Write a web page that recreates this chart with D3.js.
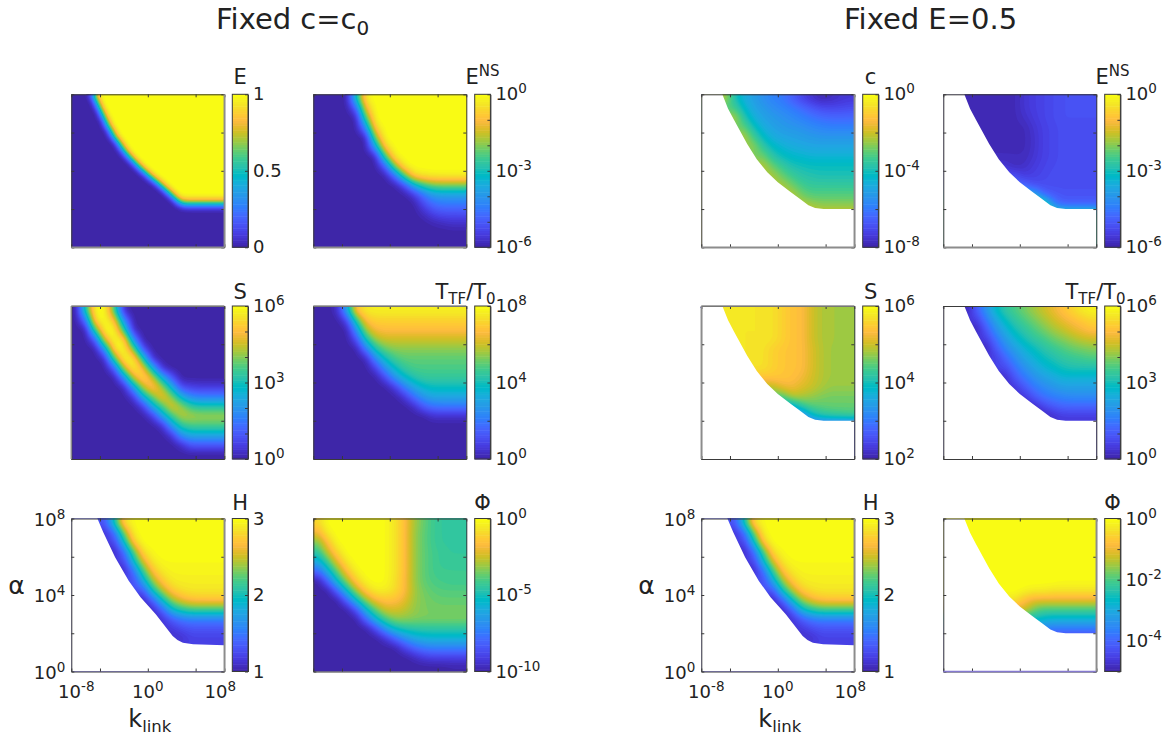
<!DOCTYPE html>
<html>
<head>
<meta charset="utf-8">
<script src="https://d3js.org/d3.v7.min.js"></script>
<style>
  html, body { margin: 0; background: #fff; }
  text { font-family: "DejaVu Sans", sans-serif; fill: #222; }
</style>
</head>
<body>
<svg id="chart" width="1167" height="738"></svg>
<script>
const _ = null

// MATLAB parula, 64 levels
const parula = ['#3e26a8','#4029b5','#422ebf','#4332cb','#4537d5','#463bde','#4741e5','#4747eb','#484df0','#4852f4','#4758f8','#465efb','#4563fc','#4269fe','#3e6fff','#3875fe','#327bfc','#2f81fa','#2d87f7','#2d8cf3','#2b91ef','#2796eb','#259be7','#239fe5','#20a5e3','#1ca9df','#18addb','#12b1d6','#08b5d0','#01b8ca','#02bac3','#0bbdbd','#19bfb6','#24c1ae','#2cc3a7','#31c69f','#37c897','#3fca8e','#4acb84','#57cc7a','#63cd6f','#71cc64','#80cc59','#8fca4e','#9dc942','#abc739','#b9c431','#c5c22a','#d1bf27','#dcbd29','#e6bb2d','#efba35','#f8ba3d','#febe3c','#fec338','#fec934','#fccf30','#f9d52d','#f7dc2a','#f5e327','#f5e924','#f6ef20','#f7f51b','#f9fb14']

const kTicks = [-8, -5, 0, 5, 8]
const alphaTicks = [0, 2, 4, 6, 8]

// edge of the computed region, Fixed E=0.5 panels
const fixedEdgeK = [-8, -5.8, -5.2, -4.6, -3.2, -2.2, -1.1, 0, 1.3, 2.4, 3.2, 3.9, 4.8, 8]
const fixedEdgeA = [8, 8, 7.25, 6.68, 5.4, 4.6, 3.92, 3.4, 2.9, 2.5, 2.2, 2.05, 2, 2]
// edge of the computed region, H panels
const hEdgeK = [-8, -5.27, -4.67, -3.42, -2, -0.76, 0.83, 2.6, 3.1, 3.67, 4.74, 8]
const hEdgeA = [8, 8, 7.3, 5.98, 4.75, 3.88, 3, 1.86, 1.65, 1.5, 1.42, 1.37]

// grids: rows top to bottom (alpha), columns left to right (k_link)
// log10 of the quantity, except E and H which are linear
// E has a very narrow transition so it gets a 32x32 grid, the rest 16x16
const eGrid = [
  [0,0,0,0,.27,.97,1,1,1,1,1,1,1,1,1,1,1,1,1,1,1,1,1,1,1,1,1,1,1,1,1,1],
  [0,0,0,0,0,.63,1,1,1,1,1,1,1,1,1,1,1,1,1,1,1,1,1,1,1,1,1,1,1,1,1,1],
  [0,0,0,0,0,.3,1,1,1,1,1,1,1,1,1,1,1,1,1,1,1,1,1,1,1,1,1,1,1,1,1,1],
  [0,0,0,0,0,0,.69,1,1,1,1,1,1,1,1,1,1,1,1,1,1,1,1,1,1,1,1,1,1,1,1,1],
  [0,0,0,0,0,0,.35,1,1,1,1,1,1,1,1,1,1,1,1,1,1,1,1,1,1,1,1,1,1,1,1,1],
  [0,0,0,0,0,0,0,.72,1,1,1,1,1,1,1,1,1,1,1,1,1,1,1,1,1,1,1,1,1,1,1,1],
  [0,0,0,0,0,0,0,.41,1,1,1,1,1,1,1,1,1,1,1,1,1,1,1,1,1,1,1,1,1,1,1,1],
  [0,0,0,0,0,0,0,0,.67,1,1,1,1,1,1,1,1,1,1,1,1,1,1,1,1,1,1,1,1,1,1,1],
  [0,0,0,0,0,0,0,0,.28,.98,1,1,1,1,1,1,1,1,1,1,1,1,1,1,1,1,1,1,1,1,1,1],
  [0,0,0,0,0,0,0,0,0,.49,1,1,1,1,1,1,1,1,1,1,1,1,1,1,1,1,1,1,1,1,1,1],
  [0,0,0,0,0,0,0,0,0,0,.72,1,1,1,1,1,1,1,1,1,1,1,1,1,1,1,1,1,1,1,1,1],
  [0,0,0,0,0,0,0,0,0,0,.21,.91,1,1,1,1,1,1,1,1,1,1,1,1,1,1,1,1,1,1,1,1],
  [0,0,0,0,0,0,0,0,0,0,0,.32,1,1,1,1,1,1,1,1,1,1,1,1,1,1,1,1,1,1,1,1],
  [0,0,0,0,0,0,0,0,0,0,0,0,.37,1,1,1,1,1,1,1,1,1,1,1,1,1,1,1,1,1,1,1],
  [0,0,0,0,0,0,0,0,0,0,0,0,0,.39,1,1,1,1,1,1,1,1,1,1,1,1,1,1,1,1,1,1],
  [0,0,0,0,0,0,0,0,0,0,0,0,0,0,.4,1,1,1,1,1,1,1,1,1,1,1,1,1,1,1,1,1],
  [0,0,0,0,0,0,0,0,0,0,0,0,0,0,0,.27,.97,1,1,1,1,1,1,1,1,1,1,1,1,1,1,1],
  [0,0,0,0,0,0,0,0,0,0,0,0,0,0,0,0,.19,.89,1,1,1,1,1,1,1,1,1,1,1,1,1,1],
  [0,0,0,0,0,0,0,0,0,0,0,0,0,0,0,0,0,.05,.75,1,1,1,1,1,1,1,1,1,1,1,1,1],
  [0,0,0,0,0,0,0,0,0,0,0,0,0,0,0,0,0,0,0,.67,1,1,1,1,1,1,1,1,1,1,1,1],
  [0,0,0,0,0,0,0,0,0,0,0,0,0,0,0,0,0,0,0,0,.54,1,1,1,1,1,1,1,1,1,1,1],
  [0,0,0,0,0,0,0,0,0,0,0,0,0,0,0,0,0,0,0,0,0,.45,1,.98,.98,.98,.98,.98,.98,.98,.98,.98],
  [0,0,0,0,0,0,0,0,0,0,0,0,0,0,0,0,0,0,0,0,0,0,.42,.75,.75,.75,.75,.75,.75,.75,.75,.75],
  [0,0,0,0,0,0,0,0,0,0,0,0,0,0,0,0,0,0,0,0,0,0,0,.1,.1,.1,.1,.1,.1,.1,.1,.1],
  [0,0,0,0,0,0,0,0,0,0,0,0,0,0,0,0,0,0,0,0,0,0,0,0,0,0,0,0,0,0,0,0],
  [0,0,0,0,0,0,0,0,0,0,0,0,0,0,0,0,0,0,0,0,0,0,0,0,0,0,0,0,0,0,0,0],
  [0,0,0,0,0,0,0,0,0,0,0,0,0,0,0,0,0,0,0,0,0,0,0,0,0,0,0,0,0,0,0,0],
  [0,0,0,0,0,0,0,0,0,0,0,0,0,0,0,0,0,0,0,0,0,0,0,0,0,0,0,0,0,0,0,0],
  [0,0,0,0,0,0,0,0,0,0,0,0,0,0,0,0,0,0,0,0,0,0,0,0,0,0,0,0,0,0,0,0],
  [0,0,0,0,0,0,0,0,0,0,0,0,0,0,0,0,0,0,0,0,0,0,0,0,0,0,0,0,0,0,0,0],
  [0,0,0,0,0,0,0,0,0,0,0,0,0,0,0,0,0,0,0,0,0,0,0,0,0,0,0,0,0,0,0,0],
  [0,0,0,0,0,0,0,0,0,0,0,0,0,0,0,0,0,0,0,0,0,0,0,0,0,0,0,0,0,0,0,0],
]
const eNsGrid = [
  [-6,-6,-6,-6,-3.1,-.2,0,0,0,0,0,0,0,0,0,0],
  [-6,-6,-6,-6,-5,-1,0,0,0,0,0,0,0,0,0,0],
  [-6,-6,-6,-6,-6,-2.4,0,0,0,0,0,0,0,0,0,0],
  [-6,-6,-6,-6,-6,-4.2,-.5,0,0,0,0,0,0,0,0,0],
  [-6,-6,-6,-6,-6,-6,-1.9,0,0,0,0,0,0,0,0,0],
  [-6,-6,-6,-6,-6,-6,-3.8,-.6,0,0,0,0,0,0,0,0],
  [-6,-6,-6,-6,-6,-6,-6,-2.5,-.2,0,0,0,0,0,0,0],
  [-6,-6,-6,-6,-6,-6,-6,-5,-2,-.2,0,0,0,0,0,0],
  [-6,-6,-6,-6,-6,-6,-6,-6,-4.8,-2.4,-.5,-.3,-.2,-.2,-.2,-.2],
  [-6,-6,-6,-6,-6,-6,-6,-6,-6,-5.3,-3.6,-2.6,-2.1,-2,-2,-2],
  [-6,-6,-6,-6,-6,-6,-6,-6,-6,-6,-5.6,-4.6,-3.9,-3.8,-3.8,-3.8],
  [-6,-6,-6,-6,-6,-6,-6,-6,-6,-6,-6,-5.3,-4.7,-4.5,-4.5,-4.5],
  [-6,-6,-6,-6,-6,-6,-6,-6,-6,-6,-6,-5.8,-5.4,-5.2,-5.2,-5.2],
  [-6,-6,-6,-6,-6,-6,-6,-6,-6,-6,-6,-6,-5.9,-5.8,-5.7,-5.7],
  [-6,-6,-6,-6,-6,-6,-6,-6,-6,-6,-6,-6,-6,-6,-6,-6],
  [-6,-6,-6,-6,-6,-6,-6,-6,-6,-6,-6,-6,-6,-6,-6,-6],
]
const sGrid = [
  [0,3.2,6,6,3.6,.2,0,0,0,0,0,0,0,0,0,0],
  [0,1.3,5.6,6,5.2,1.8,0,0,0,0,0,0,0,0,0,0],
  [0,0,3.6,6,6,3.4,.2,0,0,0,0,0,0,0,0,0],
  [0,0,1,4.8,6,5.6,1.8,0,0,0,0,0,0,0,0,0],
  [0,0,0,2,5.7,6,4,.8,0,0,0,0,0,0,0,0],
  [0,0,0,.2,3.6,6,5.8,3.2,.3,0,0,0,0,0,0,0],
  [0,0,0,0,1,4.4,6,5,2.6,.3,0,0,0,0,0,0],
  [0,0,0,0,0,1.7,4.6,5.7,4.6,2.6,1,0,0,0,0,0],
  [0,0,0,0,0,.1,2.1,4.4,5.4,4.3,2.6,.8,.6,.5,.5,.5],
  [0,0,0,0,0,0,.4,2.5,3.9,5,4.1,2.6,1.8,1.6,1.6,1.6],
  [0,0,0,0,0,0,0,.5,2.4,3.6,4.8,4.2,3.4,3.2,3.2,3.2],
  [0,0,0,0,0,0,0,0,.5,2.2,3.5,4.4,4.3,4.2,4.2,4.2],
  [0,0,0,0,0,0,0,0,0,.3,2.1,3.3,3.6,3.6,3.6,3.6],
  [0,0,0,0,0,0,0,0,0,0,.4,2,2.4,2.4,2.4,2.4],
  [0,0,0,0,0,0,0,0,0,0,0,.3,1,1,1,1],
  [0,0,0,0,0,0,0,0,0,0,0,0,0,0,0,0],
]
const tGrid = [
  [0,0,.3,3,7,7.6,7.7,7.7,7.7,7.7,7.7,7.7,7.7,7.7,7.7,7.7],
  [0,0,0,.8,4.5,6.8,7.1,7.1,7.1,7.1,7.1,7.1,7.1,7.1,7.1,7.1],
  [0,0,0,0,2.5,5.7,6.6,6.7,6.7,6.7,6.7,6.7,6.7,6.7,6.7,6.7],
  [0,0,0,0,1,4,5.6,6,6,6,6,6,6,6,6,6],
  [0,0,0,0,0,2,4.2,5.1,5.4,5.4,5.4,5.4,5.4,5.4,5.4,5.4],
  [0,0,0,0,0,.1,2.4,3.9,4.7,5,5,5,5,5,5,5],
  [0,0,0,0,0,0,.7,2.6,3.8,4.5,4.8,4.8,4.8,4.8,4.8,4.8],
  [0,0,0,0,0,0,0,.9,2.6,3.6,4.2,4.5,4.5,4.5,4.5,4.5],
  [0,0,0,0,0,0,0,0,.6,2.1,3.1,3.7,3.9,3.9,3.9,3.9],
  [0,0,0,0,0,0,0,0,0,.5,1.8,2.7,3.1,3.1,3.1,3.1],
  [0,0,0,0,0,0,0,0,0,0,.3,1.4,1.9,2,2,2],
  [0,0,0,0,0,0,0,0,0,0,0,0,.4,.4,.4,.4],
  [0,0,0,0,0,0,0,0,0,0,0,0,0,0,0,0],
  [0,0,0,0,0,0,0,0,0,0,0,0,0,0,0,0],
  [0,0,0,0,0,0,0,0,0,0,0,0,0,0,0,0],
  [0,0,0,0,0,0,0,0,0,0,0,0,0,0,0,0],
]
const hGrid = [
  [_,_,_,1.3,2,2.85,2.98,3,3,3,3,3,3,3,3,3],
  [_,_,_,1.1,1.4,2.3,2.95,3,3,3,3,3,3,3,3,3],
  [_,_,_,_,1.2,1.9,2.75,3,3,3,3,3,3,3,3,3],
  [_,_,_,_,1.05,1.4,2.2,2.85,2.97,3,3,3,3,3,3,3],
  [_,_,_,_,_,1.2,1.9,2.55,2.9,2.97,2.97,2.97,2.97,2.97,2.97,2.97],
  [_,_,_,_,_,1.05,1.45,2.15,2.7,2.9,2.95,2.95,2.95,2.95,2.95,2.95],
  [_,_,_,_,_,_,1.25,1.8,2.4,2.75,2.9,2.92,2.92,2.92,2.92,2.92],
  [_,_,_,_,_,_,_,1.3,2,2.45,2.75,2.85,2.88,2.88,2.88,2.88],
  [_,_,_,_,_,_,_,1.05,1.4,1.95,2.4,2.6,2.7,2.72,2.72,2.72],
  [_,_,_,_,_,_,_,_,1.05,1.4,1.9,2.1,2.2,2.2,2.2,2.2],
  [_,_,_,_,_,_,_,_,_,1.1,1.35,1.5,1.55,1.55,1.55,1.55],
  [_,_,_,_,_,_,_,_,_,_,1.15,1.25,1.3,1.3,1.3,1.3],
  [_,_,_,_,_,_,_,_,_,_,_,1.1,1.2,1.2,1.2,1.2],
  [_,_,_,_,_,_,_,_,_,_,_,_,_,_,_,_],
  [_,_,_,_,_,_,_,_,_,_,_,_,_,_,_,_],
  [_,_,_,_,_,_,_,_,_,_,_,_,_,_,_,_],
]
const phiGrid = [
  [-1,0,0,0,0,0,0,-.1,-.6,-1.5,-2.9,-3.6,-4.2,-4.4,-4.5,-4.5],
  [-2,-.4,0,0,0,0,0,-.1,-.6,-1.5,-3,-3.7,-4.2,-4.4,-4.5,-4.5],
  [-3.4,-1.5,-.1,0,0,0,0,-.1,-.6,-1.5,-3,-3.7,-4.2,-4.4,-4.4,-4.4],
  [-4.5,-2.5,-.9,0,0,0,0,-.1,-.6,-1.5,-3,-3.7,-4.1,-4.3,-4.4,-4.4],
  [-6,-4.1,-2,-.5,0,0,0,-.1,-.6,-1.5,-3,-3.7,-4.1,-4.3,-4.3,-4.3],
  [-8,-5.8,-3.6,-1.5,-.3,0,0,-.1,-.6,-1.5,-3,-3.7,-4.1,-4.2,-4.2,-4.2],
  [-10,-8,-5.2,-3,-1.1,-.2,0,-.1,-.7,-1.6,-3,-3.7,-4,-4.1,-4.2,-4.2],
  [-10,-10,-8,-5.2,-2.8,-1.1,-.4,-.4,-.8,-1.6,-2.9,-3.5,-3.8,-3.9,-3.9,-3.9],
  [-10,-10,-10,-8,-5.2,-3,-1.7,-1.4,-1.5,-2,-3,-3.4,-3.6,-3.7,-3.7,-3.7],
  [-10,-10,-10,-10,-8.5,-5.5,-3.6,-2.4,-2.3,-2.6,-3.1,-3.4,-3.5,-3.5,-3.5,-3.5],
  [-10,-10,-10,-10,-10,-8,-5.6,-4,-3.2,-3.2,-3.3,-3.4,-3.4,-3.4,-3.4,-3.4],
  [-10,-10,-10,-10,-10,-10,-8.8,-6.6,-5.2,-4.7,-4.6,-4.5,-4.5,-4.5,-4.5,-4.5],
  [-10,-10,-10,-10,-10,-10,-10,-9.4,-8,-6.8,-6,-5.7,-5.6,-5.6,-5.6,-5.6],
  [-10,-10,-10,-10,-10,-10,-10,-10,-10,-9,-8,-7.4,-7.2,-7.2,-7.2,-7.2],
  [-10,-10,-10,-10,-10,-10,-10,-10,-10,-10,-9.7,-9.2,-9,-9,-9,-9],
  [-10,-10,-10,-10,-10,-10,-10,-10,-10,-10,-10,-10,-10,-10,-9.9,-9.9],
]
const cGrid = [
  [_,_,-2.3,-3.9,-4.7,-5.1,-5.5,-5.8,-6,-6.5,-7.1,-7.5,-7.8,-7.7,-7.5,-7.4],
  [_,_,_,-3.2,-4.3,-4.9,-5.2,-5.5,-5.7,-5.9,-6.2,-6.6,-6.9,-7,-7,-6.9],
  [_,_,_,-2.2,-3.7,-4.6,-5,-5.2,-5.4,-5.6,-5.8,-6,-6.2,-6.3,-6.3,-6.3],
  [_,_,_,_,-2.9,-4,-4.7,-5,-5.2,-5.3,-5.4,-5.6,-5.7,-5.8,-5.8,-5.8],
  [_,_,_,_,-2.2,-3.3,-4.2,-4.7,-4.9,-5,-5.1,-5.2,-5.3,-5.3,-5.3,-5.3],
  [_,_,_,_,_,-2.5,-3.6,-4.2,-4.5,-4.7,-4.8,-4.9,-4.9,-4.9,-4.9,-4.9],
  [_,_,_,_,_,_,-2.8,-3.7,-4.1,-4.3,-4.4,-4.5,-4.5,-4.5,-4.5,-4.5],
  [_,_,_,_,_,_,-2.2,-2.9,-3.5,-3.9,-4,-4.1,-4.1,-4.1,-4.1,-4.1],
  [_,_,_,_,_,_,_,-2.3,-2.9,-3.4,-3.7,-3.8,-3.9,-3.9,-3.9,-3.9],
  [_,_,_,_,_,_,_,_,-2.3,-2.8,-3.3,-3.5,-3.5,-3.5,-3.5,-3.5],
  [_,_,_,_,_,_,_,_,_,-2.2,-2.8,-3.1,-3.1,-3.1,-3.1,-3.1],
  [_,_,_,_,_,_,_,_,_,_,-2.2,-2.4,-2.6,-2.6,-2.6,-2.6],
  [_,_,_,_,_,_,_,_,_,_,_,-2,-2,-2,-2,-2],
  [_,_,_,_,_,_,_,_,_,_,_,_,_,_,_,_],
  [_,_,_,_,_,_,_,_,_,_,_,_,_,_,_,_],
  [_,_,_,_,_,_,_,_,_,_,_,_,_,_,_,_],
]
const eNsFixedGrid = [
  [_,_,-5.85,-5.85,-5.85,-5.85,-5.85,-5.85,-5.6,-5.45,-5.35,-5.25,-5.15,-5.15,-5.15,-5.15],
  [_,_,_,-5.85,-5.85,-5.85,-5.85,-5.85,-5.6,-5.45,-5.35,-5.25,-5.15,-5.15,-5.15,-5.15],
  [_,_,_,-5.85,-5.85,-5.85,-5.85,-5.85,-5.7,-5.5,-5.35,-5.25,-5.15,-5.15,-5.15,-5.15],
  [_,_,_,_,-5.85,-5.85,-5.85,-5.85,-5.85,-5.6,-5.4,-5.3,-5.2,-5.2,-5.2,-5.2],
  [_,_,_,_,-5.85,-5.85,-5.85,-5.85,-5.85,-5.65,-5.4,-5.3,-5.2,-5.2,-5.2,-5.2],
  [_,_,_,_,_,-5.85,-5.85,-5.85,-5.85,-5.65,-5.4,-5.3,-5.2,-5.2,-5.2,-5.2],
  [_,_,_,_,_,_,-5.8,-5.8,-5.8,-5.6,-5.4,-5.3,-5.2,-5.2,-5.2,-5.2],
  [_,_,_,_,_,_,-5.6,-5.8,-5.7,-5.5,-5.35,-5.25,-5.2,-5.2,-5.2,-5.2],
  [_,_,_,_,_,_,_,-5.2,-5.5,-5.4,-5.3,-5.2,-5.2,-5.2,-5.2,-5.2],
  [_,_,_,_,_,_,_,_,-4.8,-5.2,-5.2,-5.2,-5.2,-5.2,-5.2,-5.2],
  [_,_,_,_,_,_,_,_,_,-3.5,-4.8,-5,-5.1,-5.1,-5.1,-5.1],
  [_,_,_,_,_,_,_,_,_,_,-2,-4.3,-4.9,-4.9,-4.9,-4.9],
  [_,_,_,_,_,_,_,_,_,_,_,-2.5,-2.5,-2.5,-2.5,-2.5],
  [_,_,_,_,_,_,_,_,_,_,_,_,_,_,_,_],
  [_,_,_,_,_,_,_,_,_,_,_,_,_,_,_,_],
  [_,_,_,_,_,_,_,_,_,_,_,_,_,_,_,_],
]
const sFixedGrid = [
  [_,_,5.75,5.75,5.75,5.75,5.75,5.7,5.55,5.4,5.35,5.05,4.87,4.82,4.8,4.8],
  [_,_,_,5.75,5.75,5.75,5.75,5.7,5.55,5.4,5.35,5.05,4.87,4.82,4.8,4.8],
  [_,_,_,5.75,5.75,5.75,5.75,5.7,5.55,5.4,5.35,5.05,4.87,4.82,4.8,4.8],
  [_,_,_,_,5.75,5.75,5.75,5.7,5.55,5.4,5.35,5.05,4.87,4.82,4.8,4.8],
  [_,_,_,_,5.75,5.75,5.7,5.55,5.45,5.4,5.35,5.1,4.9,4.8,4.8,4.8],
  [_,_,_,_,_,5.75,5.7,5.55,5.45,5.4,5.35,5.1,4.9,4.8,4.8,4.8],
  [_,_,_,_,_,_,5.7,5.55,5.45,5.4,5.35,5.1,4.9,4.8,4.8,4.8],
  [_,_,_,_,_,_,5.4,5.45,5.42,5.38,5.25,5.05,4.9,4.8,4.8,4.8],
  [_,_,_,_,_,_,_,4.9,5.2,5.25,5.1,5,4.85,4.75,4.75,4.75],
  [_,_,_,_,_,_,_,_,4.4,4.9,4.85,4.75,4.65,4.6,4.6,4.6],
  [_,_,_,_,_,_,_,_,_,3.6,4.2,4.45,4.5,4.55,4.55,4.55],
  [_,_,_,_,_,_,_,_,_,_,3,3.8,4.1,4.2,4.25,4.3],
  [_,_,_,_,_,_,_,_,_,_,_,2.6,2.6,2.6,2.6,2.6],
  [_,_,_,_,_,_,_,_,_,_,_,_,_,_,_,_],
  [_,_,_,_,_,_,_,_,_,_,_,_,_,_,_,_],
  [_,_,_,_,_,_,_,_,_,_,_,_,_,_,_,_],
]
const tFixedGrid = [
  [_,_,.1,1.1,2,2.8,3.3,3.6,3.9,4.2,4.5,4.8,5.1,5.4,5.7,5.85],
  [_,_,_,.5,1.5,2.3,2.9,3.3,3.6,3.9,4.2,4.5,4.8,5,5.2,5.4],
  [_,_,_,.1,1,1.9,2.5,3,3.3,3.6,3.9,4.2,4.4,4.7,4.9,5.1],
  [_,_,_,_,.5,1.4,2.1,2.6,3,3.3,3.5,3.8,4,4.2,4.4,4.5],
  [_,_,_,_,.1,1,1.7,2.2,2.6,2.9,3.2,3.4,3.6,3.8,3.9,4],
  [_,_,_,_,_,.5,1.2,1.8,2.3,2.6,2.9,3.1,3.3,3.4,3.5,3.6],
  [_,_,_,_,_,_,.7,1.4,1.9,2.3,2.6,2.8,3,3.1,3.1,3.1],
  [_,_,_,_,_,_,.2,1,1.5,1.9,2.2,2.4,2.6,2.6,2.6,2.6],
  [_,_,_,_,_,_,_,.4,1,1.5,1.8,2,2.2,2.2,2.2,2.2],
  [_,_,_,_,_,_,_,_,.4,1,1.4,1.6,1.7,1.8,1.8,1.8],
  [_,_,_,_,_,_,_,_,_,.2,.7,1,1.2,1.2,1.2,1.2],
  [_,_,_,_,_,_,_,_,_,_,.1,.3,.5,.5,.5,.5],
  [_,_,_,_,_,_,_,_,_,_,_,_,_,_,_,_],
  [_,_,_,_,_,_,_,_,_,_,_,_,_,_,_,_],
  [_,_,_,_,_,_,_,_,_,_,_,_,_,_,_,_],
  [_,_,_,_,_,_,_,_,_,_,_,_,_,_,_,_],
]
const phiFixedGrid = [
  [_,_,0,0,0,0,0,0,0,0,0,0,0,0,0,0],
  [_,_,_,0,0,0,0,0,0,0,0,0,0,0,0,0],
  [_,_,_,0,0,0,0,0,0,0,0,0,0,0,0,0],
  [_,_,_,_,0,0,0,0,0,0,0,0,0,0,0,0],
  [_,_,_,_,0,0,0,0,0,0,0,0,0,0,0,0],
  [_,_,_,_,_,0,0,0,0,0,0,0,0,0,0,0],
  [_,_,_,_,_,_,0,0,0,0,0,0,-.05,-.05,-.05,-.05],
  [_,_,_,_,_,_,0,0,-.1,-.2,-.2,-.3,-.3,-.3,-.3,-.3],
  [_,_,_,_,_,_,_,-.3,-.8,-1,-1,-1,-1,-1,-1,-1],
  [_,_,_,_,_,_,_,_,-1.1,-1.8,-2,-2,-2,-2,-2,-2],
  [_,_,_,_,_,_,_,_,_,-2.5,-2.7,-2.8,-2.8,-2.8,-2.8,-2.8],
  [_,_,_,_,_,_,_,_,_,_,-3.6,-3.7,-3.7,-3.7,-3.7,-3.7],
  [_,_,_,_,_,_,_,_,_,_,_,-4.5,-4.5,-4.5,-4.5,-4.5],
  [_,_,_,_,_,_,_,_,_,_,_,_,_,_,_,_],
  [_,_,_,_,_,_,_,_,_,_,_,_,_,_,_,_],
  [_,_,_,_,_,_,_,_,_,_,_,_,_,_,_,_],
]

const colLefts = [71.3, 313.3, 701.3, 943.3]
const barLefts = [232.3, 474.7, 862.7, 1104.7]
const rowTops = [94.3, 306, 518.5]
const labelGaps = [10, 7, 9]
const panelSize = 153
const barWidth = 15.7
const shadeSize = 64
const grey = '#8c8c8c'

const panels = [
  { col: 0, row: 0, grid: eGrid, blur: 0.5, domain: [0, 1], label: ['E'], barTicks: [0, .5, 1], barLabels: [0, .5, 1], linear: true, edges: { bottom: grey, right: grey } },
  { col: 1, row: 0, grid: eNsGrid, domain: [-6, 0], label: ['E', 'NS'], barTicks: [-6, -5, -4, -3, -2, -1, 0], barLabels: [-6, -3, 0], edges: { bottom: grey } },
  { col: 0, row: 1, grid: sGrid, blur: 0.7, domain: [0, 6], label: ['S'], barTicks: [0, 1, 2, 3, 4, 5, 6], barLabels: [0, 3, 6], edges: { top: grey, left: grey } },
  { col: 1, row: 1, grid: tGrid, domain: [0, 8], label: ['T', 'TF', '/T', '0'], labelDx: -17, barTicks: [0, 2, 4, 6, 8], barLabels: [0, 4, 8], edges: { top: grey } },
  { col: 0, row: 2, grid: hGrid, domain: [1, 3], label: ['H'], barTicks: [1, 2, 3], barLabels: [1, 2, 3], linear: true, edgeK: hEdgeK, edgeA: hEdgeA, axisLabels: true, edges: { right: grey } },
  { col: 1, row: 2, grid: phiGrid, domain: [-10, 0], label: ['Φ'], barTicks: [-10, -5, 0], barLabels: [-10, -5, 0] },
  { col: 2, row: 0, grid: cGrid, domain: [-8, 0], label: ['c'], barTicks: [-8, -6, -4, -2, 0], barLabels: [-8, -4, 0], edgeK: fixedEdgeK, edgeA: fixedEdgeA, edges: { bottom: grey, right: grey } },
  { col: 3, row: 0, grid: eNsFixedGrid, domain: [-6, 0], label: ['E', 'NS'], barTicks: [-6, -5, -4, -3, -2, -1, 0], barLabels: [-6, -3, 0], edgeK: fixedEdgeK, edgeA: fixedEdgeA, edges: { bottom: grey } },
  { col: 2, row: 1, grid: sFixedGrid, domain: [2, 6], label: ['S'], barTicks: [2, 3, 4, 5, 6], barLabels: [2, 4, 6], edgeK: fixedEdgeK, edgeA: fixedEdgeA, edges: { top: grey, left: grey } },
  { col: 3, row: 1, grid: tFixedGrid, domain: [0, 6], label: ['T', 'TF', '/T', '0'], labelDx: -17, barTicks: [0, 1, 2, 3, 4, 5, 6], barLabels: [0, 3, 6], edgeK: fixedEdgeK, edgeA: fixedEdgeA },
  { col: 2, row: 2, grid: hGrid, domain: [1, 3], label: ['H'], barTicks: [1, 2, 3], barLabels: [1, 2, 3], linear: true, edgeK: hEdgeK, edgeA: hEdgeA, axisLabels: true, edges: { right: grey } },
  { col: 3, row: 2, grid: phiFixedGrid, domain: [-5, 0], label: ['Φ'], barTicks: [-5, -4, -3, -2, -1, 0], barLabels: [-4, -2, 0], edgeK: fixedEdgeK, edgeA: fixedEdgeA, edges: { bottom: '#8579d0', right: grey } },
]

const svg = d3.select('#chart')

// nulls are outside the computed region, run the field on under the white mask
const padGrid = (grid) => {
  const out = grid.map((row) => row.slice())
  out.forEach((row, j) => {
    for (let i = row.length - 1; i >= 0; i--) {
      if (row[i] === null) {
        row[i] = i < row.length - 1 && row[i + 1] !== null ? row[i + 1] : (j > 0 ? out[j - 1][i] : 0)
      }
    }
  })
  return out
}

// the original is shaded, so resample the grid for drawing and soften it a little
const shade = (grid, radius) => {
  const n = grid.length
  const pos = (a) => Math.min(n - 1, Math.max(0, (a + 0.5) * n / shadeSize - 0.5))
  const data = new Float64Array(shadeSize * shadeSize)
  for (let b = 0; b < shadeSize; b++) {
    const py = pos(b), j0 = Math.floor(py), j1 = Math.min(n - 1, j0 + 1)
    for (let a = 0; a < shadeSize; a++) {
      const px = pos(a), i0 = Math.floor(px), i1 = Math.min(n - 1, i0 + 1)
      const top = d3.interpolateNumber(grid[j0][i0], grid[j0][i1])(px - i0)
      const bot = d3.interpolateNumber(grid[j1][i0], grid[j1][i1])(px - i0)
      data[b * shadeSize + a] = d3.interpolateNumber(top, bot)(py - j0)
    }
  }
  d3.blur2({ data, width: shadeSize, height: shadeSize }, radius)
  return Array.from(data)
}

const power = (sel, exponent, size) => {
  sel.text('10').append('tspan')
    .attr('dy', -7)
    .attr('font-size', size)
    .text(exponent)
}

const drawAxes = (g, x, y) => {
  const axis = (gen, tx, ty) => {
    const a = g.append('g').attr('transform', `translate(${tx},${ty})`)
      .call(gen.tickSizeInner(-3).tickSizeOuter(0).tickFormat(''))
    a.selectAll('.domain').attr('stroke', '#3a3a3a')
    a.selectAll('.tick line').attr('stroke', '#3a3a3a')
  }
  const [x0, x1] = x.range()
  const [y1, y0] = y.range()
  axis(d3.axisBottom(x).tickValues(kTicks), 0, y1)
  axis(d3.axisTop(x).tickValues(kTicks), 0, y0)
  axis(d3.axisLeft(y).tickValues(alphaTicks), x0, 0)
  axis(d3.axisRight(y).tickValues(alphaTicks), x1, 0)
}

const drawPanel = (p) => {
  const left = colLefts[p.col]
  const top = rowTops[p.row]
  const x = d3.scaleLinear([-8, 8], [left, left + panelSize])
  const y = d3.scaleLinear([0, 8], [top + panelSize, top])
  const g = svg.append('g')

  const flat = shade(padGrid(p.grid), p.blur === undefined ? 1 : p.blur)
  const level = d3.scaleLinear([0, parula.length], p.domain)
  const contours = d3.contours()
    .size([shadeSize, shadeSize])
    .thresholds(d3.range(1, parula.length).map(level))(flat)

  const cellX = x.copy().domain([0, shadeSize])
  const cellY = d3.scaleLinear([0, shadeSize], [top, top + panelSize])
  const path = d3.geoPath(d3.geoTransform({
    point(a, b) { this.stream.point(cellX(a), cellY(b)) },
  }))

  g.append('rect')
    .attr('x', left).attr('y', top)
    .attr('width', panelSize).attr('height', panelSize)
    .attr('fill', parula[0])
  g.selectAll('path.level')
    .data(contours)
    .join('path')
    .attr('class', 'level')
    .attr('d', path)
    .attr('fill', (d, i) => parula[i + 1])

  if (p.edgeK) {
    const mask = d3.area()
      .x((d) => x(d))
      .y0((d, i) => y(p.edgeA[i]))
      .y1(y(0))
    g.append('path').attr('d', mask(p.edgeK)).attr('fill', '#fff')
  }

  drawAxes(g, x, y)

  // a few axes lines came out lighter in the original
  const edgeLines = {
    top: [x(-8), y(8), x(8), y(8)],
    bottom: [x(-8), y(0), x(8), y(0)],
    left: [x(-8), y(0), x(-8), y(8)],
    right: [x(8), y(0), x(8), y(8)],
  }
  Object.entries(p.edges || {}).forEach(([side, color]) => {
    const c = edgeLines[side]
    g.append('line')
      .attr('x1', c[0]).attr('y1', c[1]).attr('x2', c[2]).attr('y2', c[3])
      .attr('stroke', color).attr('stroke-width', 1.5)
  })

  // colorbar
  const barLeft = barLefts[p.col]
  const barY = d3.scaleLinear(p.domain, [top + panelSize, top])
  const bandY = d3.scaleBand(d3.range(parula.length), [top + panelSize, top])
  g.selectAll('rect.bar')
    .data(parula)
    .join('rect')
    .attr('class', 'bar')
    .attr('x', barLeft)
    .attr('y', (d, i) => bandY(i))
    .attr('width', barWidth)
    .attr('height', bandY.bandwidth() + 0.5)
    .attr('fill', (d) => d)
  const barAxis = g.append('g')
    .attr('transform', `translate(${barLeft + barWidth},0)`)
    .call(d3.axisRight(barY).tickValues(p.barTicks).tickSizeInner(-3).tickSizeOuter(0).tickFormat(''))
  barAxis.selectAll('.domain, .tick line').attr('stroke', '#3a3a3a')
  g.append('rect')
    .attr('x', barLeft).attr('y', top)
    .attr('width', barWidth).attr('height', panelSize)
    .attr('fill', 'none').attr('stroke', '#3a3a3a')

  p.barLabels.forEach((v) => {
    const t = g.append('text')
      .attr('x', barLeft + barWidth + 5)
      .attr('y', barY(v) + 6)
      .attr('font-size', 18)
    if (p.linear) t.text(v)
    else power(t, v, 13.5)
  })

  // label over the colorbar
  const lab = g.append('text')
    .attr('x', barLeft + barWidth / 2 + (p.labelDx || 0))
    .attr('y', top - labelGaps[p.row])
    .attr('text-anchor', 'middle')
    .attr('font-size', 21)
  lab.append('tspan').text(p.label[0])
  if (p.label.length === 2) {
    lab.append('tspan').attr('dy', -8).attr('font-size', 15).text(p.label[1])
  } else if (p.label.length === 4) {
    lab.append('tspan').attr('dy', 5).attr('font-size', 15).text(p.label[1])
    lab.append('tspan').attr('dy', -5).text(p.label[2])
    lab.append('tspan').attr('dy', 5).attr('font-size', 15).text(p.label[3])
  }

  if (p.axisLabels) {
    const kShown = [[-8, 5], [0, 0], [8, -4]]
    kShown.forEach(([k, dx]) => {
      const t = g.append('text')
        .attr('x', x(k) + dx)
        .attr('y', y(0) + 26)
        .attr('text-anchor', 'middle')
        .attr('font-size', 18)
      power(t, k, 13.5)
    })
    const alphaShown = [0, 4, 8]
    alphaShown.forEach((a) => {
      const t = g.append('text')
        .attr('x', left - 6)
        .attr('y', y(a) + 7)
        .attr('text-anchor', 'end')
        .attr('font-size', 18)
      power(t, a, 13.5)
    })
    g.append('text')
      .attr('x', left - 63)
      .attr('y', 594)
      .attr('font-size', 25)
      .text('α')
    const kl = g.append('text')
      .attr('x', left + 57)
      .attr('y', 727)
      .attr('font-size', 24)
    kl.append('tspan').text('k')
    kl.append('tspan').attr('dy', 5).attr('font-size', 16.5).text('link')
  }
}

panels.forEach(drawPanel)

const title1 = svg.append('text').attr('x', 216).attr('y', 29).attr('font-size', 29)
title1.append('tspan').text('Fixed c=c')
title1.append('tspan').attr('dy', 6).attr('font-size', 20).text('0')
svg.append('text').attr('x', 844).attr('y', 29).attr('font-size', 29).text('Fixed E=0.5')
</script>
</body>
</html>
